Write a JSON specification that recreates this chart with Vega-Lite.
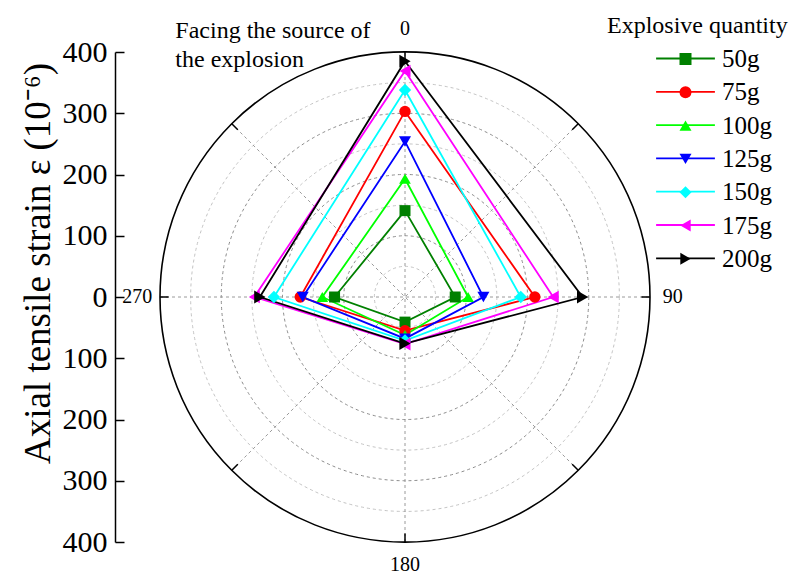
{
  "$schema": "https://vega.github.io/schema/vega-lite/v6.json",
  "width": 490,
  "height": 490,
  "autosize": {"type": "none"},
  "padding": {"left": 160, "top": 52, "right": 142, "bottom": 32},
  "background": "white",
  "config": {"view": {"stroke": null}, "font": "Liberation Serif"},
  "datasets": {
    "strain": [
      {"quantity": "50g", "angle": 0, "strain": 141},
      {"quantity": "50g", "angle": 90, "strain": 82},
      {"quantity": "50g", "angle": 180, "strain": 41},
      {"quantity": "50g", "angle": 270, "strain": 115},
      {"quantity": "75g", "angle": 0, "strain": 303},
      {"quantity": "75g", "angle": 90, "strain": 212},
      {"quantity": "75g", "angle": 180, "strain": 55},
      {"quantity": "75g", "angle": 270, "strain": 171},
      {"quantity": "100g", "angle": 0, "strain": 193},
      {"quantity": "100g", "angle": 90, "strain": 103},
      {"quantity": "100g", "angle": 180, "strain": 62},
      {"quantity": "100g", "angle": 270, "strain": 135},
      {"quantity": "125g", "angle": 0, "strain": 254},
      {"quantity": "125g", "angle": 90, "strain": 128},
      {"quantity": "125g", "angle": 180, "strain": 68},
      {"quantity": "125g", "angle": 270, "strain": 167},
      {"quantity": "150g", "angle": 0, "strain": 338},
      {"quantity": "150g", "angle": 90, "strain": 189},
      {"quantity": "150g", "angle": 180, "strain": 71},
      {"quantity": "150g", "angle": 270, "strain": 214},
      {"quantity": "175g", "angle": 0, "strain": 369},
      {"quantity": "175g", "angle": 90, "strain": 242},
      {"quantity": "175g", "angle": 180, "strain": 77},
      {"quantity": "175g", "angle": 270, "strain": 246},
      {"quantity": "200g", "angle": 0, "strain": 385},
      {"quantity": "200g", "angle": 90, "strain": 290},
      {"quantity": "200g", "angle": 180, "strain": 76},
      {"quantity": "200g", "angle": 270, "strain": 237}
    ],
    "rings": [{"r": 50}, {"r": 100}, {"r": 150}, {"r": 200}, {"r": 250}, {"r": 300}, {"r": 350}],
    "outer": [{"r": 400}],
    "spokes": [{"angle": 0}, {"angle": 45}, {"angle": 90}, {"angle": 135}, {"angle": 180}, {"angle": 225}, {"angle": 270}, {"angle": 315}],
    "directions": [
      {"angle": 0, "label": "0"},
      {"angle": 90, "label": "90"},
      {"angle": 180, "label": "180"},
      {"angle": 270, "label": "270"}
    ],
    "note": [{"text": ["Facing the source of", "the explosion"]}]
  },
  "layer": [
    {
      "data": {"name": "rings"},
      "transform": [{"filter": "datum.r % 100 !== 0"}],
      "mark": {"type": "point", "shape": "circle", "filled": false, "stroke": "#c4c4c4", "strokeWidth": 1, "strokeDash": [3, 3], "opacity": 1},
      "encoding": {
        "x": {"datum": 0, "type": "quantitative", "scale": {"domain": [-400, 400], "nice": false, "zero": false}, "axis": null},
        "y": {"datum": 0, "type": "quantitative", "scale": {"domain": [-400, 400], "nice": false, "zero": false}},
        "size": {"field": "r", "type": "quantitative", "scale": {"type": "pow", "exponent": 2, "domain": [0, 400], "range": [0, 240100]}, "legend": null}
      }
    },
    {
      "data": {"name": "rings"},
      "transform": [{"filter": "datum.r % 100 === 0"}],
      "mark": {"type": "point", "shape": "circle", "filled": false, "stroke": "#8c8c8c", "strokeWidth": 1, "strokeDash": [3, 3], "opacity": 1},
      "encoding": {
        "x": {"datum": 0, "type": "quantitative", "scale": {"domain": [-400, 400], "nice": false, "zero": false}, "axis": null},
        "y": {"datum": 0, "type": "quantitative", "scale": {"domain": [-400, 400], "nice": false, "zero": false}},
        "size": {"field": "r", "type": "quantitative", "scale": {"type": "pow", "exponent": 2, "domain": [0, 400], "range": [0, 240100]}, "legend": null}
      }
    },
    {
      "data": {"name": "spokes"},
      "transform": [
        {"filter": "datum.angle < 180"},
        {"calculate": "400 * sin(datum.angle * PI / 180)", "as": "ex"},
        {"calculate": "400 * cos(datum.angle * PI / 180)", "as": "ey"},
        {"calculate": "-400 * sin(datum.angle * PI / 180)", "as": "ox"},
        {"calculate": "-400 * cos(datum.angle * PI / 180)", "as": "oy"}
      ],
      "mark": {"type": "rule", "stroke": "#9a9a9a", "strokeWidth": 1, "strokeDash": [3, 3]},
      "encoding": {
        "x": {"field": "ox", "type": "quantitative", "scale": {"domain": [-400, 400], "nice": false, "zero": false}, "axis": null},
        "y": {"field": "oy", "type": "quantitative", "scale": {"domain": [-400, 400], "nice": false, "zero": false}},
        "x2": {"field": "ex"},
        "y2": {"field": "ey"}
      }
    },
    {
      "data": {"name": "outer"},
      "mark": {"type": "point", "shape": "circle", "filled": false, "stroke": "black", "strokeWidth": 1.6, "opacity": 1},
      "encoding": {
        "x": {"datum": 0, "type": "quantitative", "scale": {"domain": [-400, 400], "nice": false, "zero": false}, "axis": null},
        "y": {"datum": 0, "type": "quantitative", "scale": {"domain": [-400, 400], "nice": false, "zero": false}},
        "size": {"field": "r", "type": "quantitative", "scale": {"type": "pow", "exponent": 2, "domain": [0, 400], "range": [0, 240100]}, "legend": null}
      }
    },
    {
      "data": {"name": "spokes"},
      "transform": [
        {"calculate": "386 * sin(datum.angle * PI / 180)", "as": "sx"},
        {"calculate": "386 * cos(datum.angle * PI / 180)", "as": "sy"},
        {"calculate": "400 * sin(datum.angle * PI / 180)", "as": "ex"},
        {"calculate": "400 * cos(datum.angle * PI / 180)", "as": "ey"}
      ],
      "mark": {"type": "rule", "stroke": "black", "strokeWidth": 1.5},
      "encoding": {
        "x": {"field": "sx", "type": "quantitative", "scale": {"domain": [-400, 400], "nice": false, "zero": false}, "axis": null},
        "y": {"field": "sy", "type": "quantitative", "scale": {"domain": [-400, 400], "nice": false, "zero": false}},
        "x2": {"field": "ex"},
        "y2": {"field": "ey"}
      }
    },
    {
      "data": {"name": "directions"},
      "transform": [
        {"calculate": "437 * sin(datum.angle * PI / 180)", "as": "lx"},
        {"calculate": "437 * cos(datum.angle * PI / 180)", "as": "ly"}
      ],
      "mark": {"type": "text", "font": "Liberation Serif", "fontSize": 20, "align": "center", "baseline": "middle", "color": "black"},
      "encoding": {
        "x": {"field": "lx", "type": "quantitative", "scale": {"domain": [-400, 400], "nice": false, "zero": false}, "axis": null},
        "y": {"field": "ly", "type": "quantitative", "scale": {"domain": [-400, 400], "nice": false, "zero": false}},
        "text": {"field": "label", "type": "nominal"}
      }
    },
    {
      "data": {"name": "note"},
      "mark": {"type": "text", "font": "Liberation Serif", "fontSize": 24, "align": "left", "baseline": "alphabetic", "lineHeight": 29, "color": "black"},
      "encoding": {
        "x": {"datum": -375, "type": "quantitative", "scale": {"domain": [-400, 400], "nice": false, "zero": false}, "axis": null},
        "y": {"datum": 423, "type": "quantitative", "scale": {"domain": [-400, 400], "nice": false, "zero": false}},
        "text": {"field": "text"}
      }
    },
    {
      "data": {"name": "strain"},
      "transform": [
        {"calculate": "datum.strain * sin(datum.angle * PI / 180)", "as": "px"},
        {"calculate": "datum.strain * cos(datum.angle * PI / 180)", "as": "py"}
      ],
      "mark": {"type": "line", "interpolate": "linear-closed", "strokeWidth": 1.8},
      "encoding": {
        "x": {"field": "px", "type": "quantitative", "scale": {"domain": [-400, 400], "nice": false, "zero": false}, "axis": null},
        "y": {
          "field": "py", "type": "quantitative",
          "scale": {"domain": [-400, 400], "nice": false, "zero": false},
          "axis": {
            "orient": "left", "offset": 45,
            "values": [-400, -350, -300, -250, -200, -150, -100, -50, 0, 50, 100, 150, 200, 250, 300, 350, 400],
            "labelExpr": "datum.value % 100 === 0 ? '' + abs(datum.value) : ''",
            "grid": false,
            "domain": true, "domainColor": "black", "domainWidth": 1.5,
            "ticks": true, "tickColor": "black", "tickWidth": 1.5,
            "tickSize": {"condition": {"test": "datum.value % 100 === 0", "value": -9}, "value": -5},
            "labelFont": "Liberation Serif", "labelFontSize": 30, "labelColor": "black",
            "labelPadding": 17, "labelFlush": false, "labelOverlap": false,
            "title": "Axial tensile strain ε (10⁻⁶)",
            "titleFont": "Liberation Serif", "titleFontSize": 37, "titleFontWeight": "normal", "titleColor": "black",
            "titleX": -66, "titleY": 211, "titleAngle": 270, "titleBaseline": "alphabetic", "titleAlign": "center"
          }
        },
        "stroke": {
          "field": "quantity", "type": "nominal",
          "scale": {"domain": ["200g", "175g", "150g", "125g", "100g", "75g", "50g"], "range": ["#000000", "#ff00ff", "#00ffff", "#0000ff", "#00ff00", "#ff0000", "#008000"]},
          "legend": {
            "title": null,
            "values": ["50g", "75g", "100g", "125g", "150g", "175g", "200g"],
            "orient": "none", "legendX": 447, "legendY": -6,
            "padding": 0,
            "labelFont": "Liberation Serif", "labelFontSize": 25, "labelOpacity": 0,
            "symbolType": "M-4.9,0H4.9", "symbolSize": 144, "symbolStrokeWidth": 1.8,
            "symbolOffset": 66, "labelOffset": 24, "rowPadding": 7.3,
            "zindex": 0
          }
        },
        "order": {"field": "angle", "type": "quantitative"}
      }
    },
    {
      "data": {"name": "strain"},
      "transform": [
        {"calculate": "datum.strain * sin(datum.angle * PI / 180)", "as": "px"},
        {"calculate": "datum.strain * cos(datum.angle * PI / 180)", "as": "py"}
      ],
      "mark": {"type": "point", "filled": true, "opacity": 1},
      "encoding": {
        "x": {"field": "px", "type": "quantitative", "scale": {"domain": [-400, 400], "nice": false, "zero": false}, "axis": null},
        "y": {"field": "py", "type": "quantitative", "scale": {"domain": [-400, 400], "nice": false, "zero": false}},
        "color": {
          "field": "quantity", "type": "nominal",
          "scale": {"domain": ["50g", "75g", "100g", "125g", "150g", "175g", "200g"], "range": ["#008000", "#ff0000", "#00ff00", "#0000ff", "#00ffff", "#ff00ff", "#000000"]},
          "legend": {
            "title": "Explosive quantity",
            "orient": "none", "legendX": 447, "legendY": -38,
            "padding": 0,
            "titleFont": "Liberation Serif", "titleFontSize": 24, "titleFontWeight": "normal", "titleColor": "black", "titlePadding": 8.5, "titleLimit": 400,
            "labelFont": "Liberation Serif", "labelFontSize": 25, "labelColor": "black",
            "symbolSize": 144, "symbolOffset": 66, "labelOffset": 24, "rowPadding": 7.3,
            "zindex": 1
          }
        },
        "shape": {
          "field": "quantity", "type": "nominal",
          "scale": {"domain": ["50g", "75g", "100g", "125g", "150g", "175g", "200g"], "range": ["square", "circle", "triangle-up", "triangle-down", "diamond", "triangle-left", "triangle-right"]},
          "legend": null
        },
        "size": {
          "field": "quantity", "type": "nominal",
          "scale": {"domain": ["50g", "75g", "100g", "125g", "150g", "175g", "200g"], "range": [121, 170, 230, 230, 170, 230, 230]},
          "legend": null
        }
      }
    }
  ]
}
